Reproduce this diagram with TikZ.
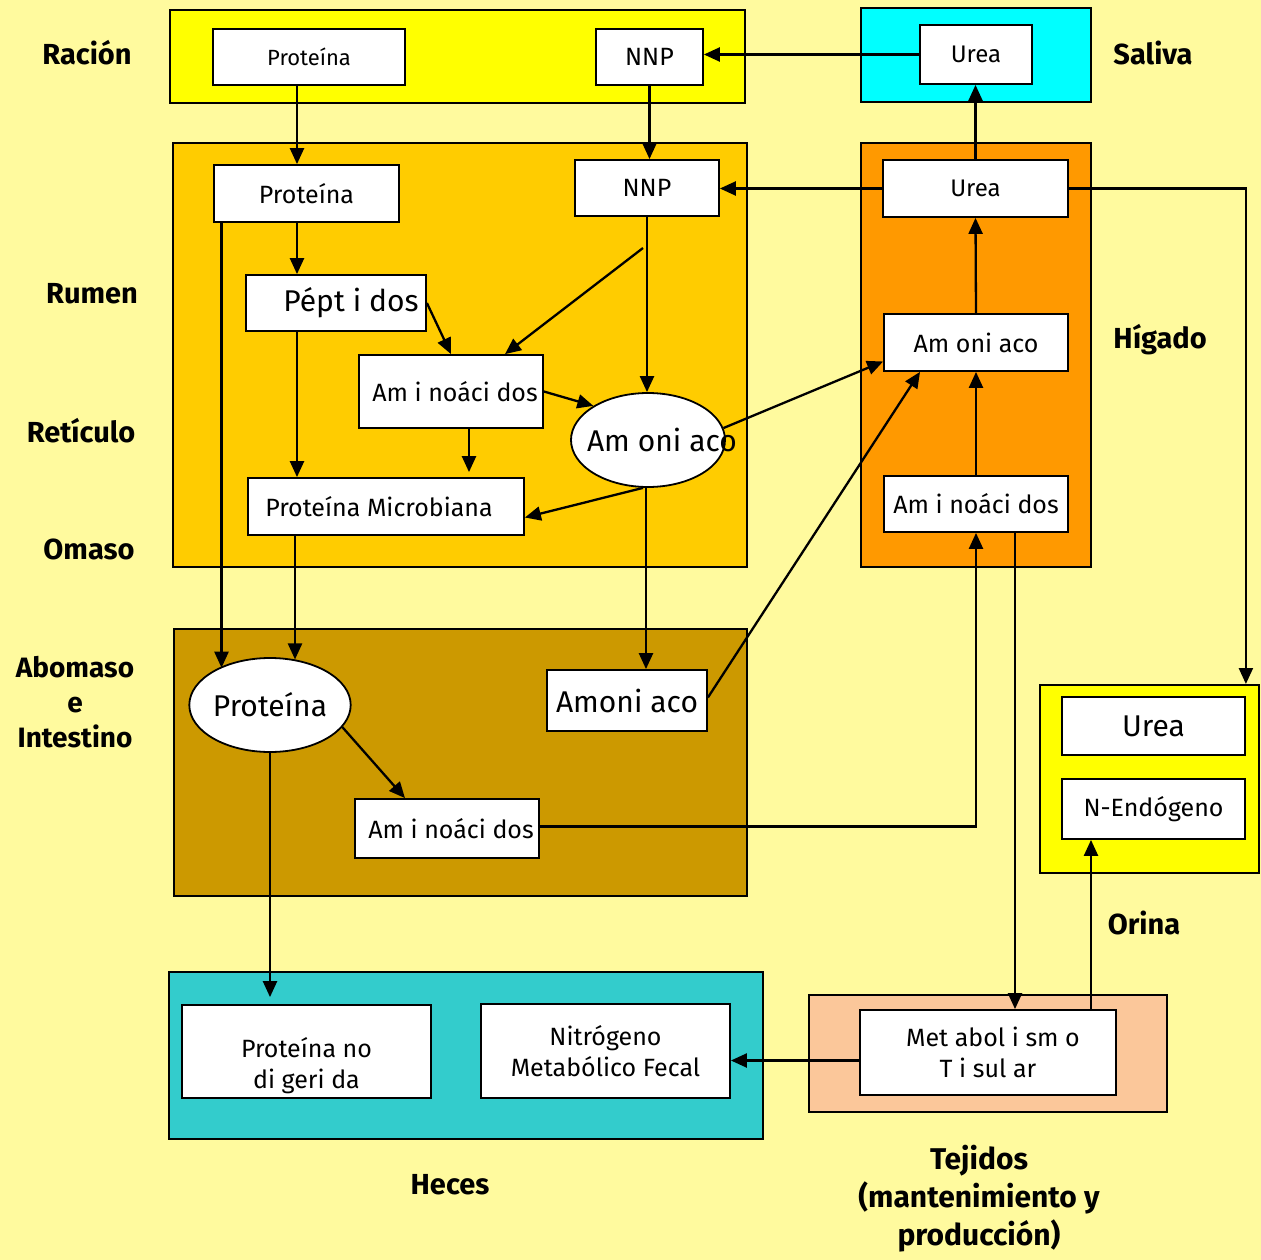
\documentclass[tikz,border=0pt]{standalone}
\usepackage{fontspec}
\setmainfont{Fira Sans}
\usetikzlibrary{arrows.meta,shapes.geometric}
\definecolor{bg}{HTML}{FFFA9E}
\definecolor{cRacion}{HTML}{FFFF00}
\definecolor{cSaliva}{HTML}{00FFFF}
\definecolor{cRumen}{HTML}{FFCC00}
\definecolor{cHigado}{HTML}{FF9900}
\definecolor{cAbomaso}{HTML}{CC9900}
\definecolor{cOrina}{HTML}{FFFF00}
\definecolor{cHeces}{HTML}{33CCCC}
\definecolor{cTejidos}{HTML}{FBC79A}
\begin{document}
\begin{tikzpicture}[x=1pt,y=-1pt,
  region/.style={draw=black,line width=2pt,rectangle,inner sep=0pt},
  box/.style={draw=black,fill=white,line width=1.8pt,rectangle,inner sep=0pt,align=center},
  oval/.style={draw=black,fill=white,line width=1.8pt,ellipse,inner sep=0pt},
  arr/.style={line width=2.3pt,-{Triangle[length=16pt,width=14pt]}},
  lab/.style={font=\bfseries\fontsize{29}{35}\selectfont,align=center},
  fA/.style={font=\fontsize{22}{28}\selectfont},
  fB/.style={font=\fontsize{24}{30}\selectfont},
  fC/.style={font=\fontsize{25}{31}\selectfont},
  fD/.style={font=\fontsize{30}{36}\selectfont}]
\useasboundingbox (0,0) rectangle (1261,1260);
\fill[bg] (0,0) rectangle (1261,1260);

% regions
\node[region,fill=cRacion,minimum width=575,minimum height=93] (RR) at (457.5,56.5) {};
\node[region,fill=cSaliva,minimum width=230,minimum height=94] (RS) at (976,55) {};
\node[region,fill=cRumen,minimum width=574,minimum height=424] (RU) at (460,355) {};
\node[region,fill=cHigado,minimum width=230,minimum height=424] (RH) at (976,355) {};
\node[region,fill=cAbomaso,minimum width=573,minimum height=267] (RA) at (460.5,762.5) {};
\node[region,fill=cOrina,minimum width=219,minimum height=188] (RO) at (1149.5,779) {};
\node[region,fill=cHeces,minimum width=594,minimum height=167] (RHe) at (466,1055.5) {};
\node[region,fill=cTejidos,minimum width=358,minimum height=117] (RT) at (988,1053.5) {};

% labels
\node[lab] (lRacion) at (87,53) {Ración};
\node[lab] (lSaliva) at (1153,53) {Saliva};
\node[lab] (lRumen) at (92,294) {Rumen};
\node[lab] (lReticulo) at (81,431) {Retículo};
\node[lab] (lOmaso) at (89,549) {Omaso};
\node[lab,font=\bfseries\fontsize{28}{35}\selectfont] (lAbomaso) at (75,702) {Abomaso\\e\\Intestino};
\node[lab] (lHigado) at (1160,340) {Hígado};
\node[lab] (lOrina) at (1144,923) {Orina};
\node[lab] (lHeces) at (450,1185) {Heces};
\node[lab,font=\bfseries\fontsize{30}{38}\selectfont] (lTejidos) at (979,1199) {Tejidos\\(mantenimiento y\\producción)};

% boxes
\node[box,fA,minimum width=192,minimum height=56] (rp) at (309,57) {Proteína};
\node[box,fC,minimum width=107,minimum height=56] (rn) at (649.5,57) {NNP};
\node[box,fB,minimum width=112,minimum height=59] (su) at (976,54.5) {Urea};
\node[box,fC,minimum width=185,minimum height=57] (mp) at (306.5,193.5) {Proteína};
\node[box,fC,minimum width=144,minimum height=56] (mn) at (647,188) {NNP};
\node[box,fD,minimum width=180,minimum height=56] (pep) at (336,303) {\hspace*{30pt}Pépt i dos};
\node[box,fC,minimum width=184,minimum height=73] (maa) at (451,391.5) {\hspace*{8pt}Am i noáci dos};
\node[oval,minimum width=154,minimum height=94,label={[fD,xshift=14pt]center:Am oni aco}] (mam) at (648,440) {};
\node[box,fC,minimum width=276,minimum height=57] (pm) at (386,506.5) {Proteína Microbiana\hspace*{14pt}};
\node[box,fB,minimum width=185,minimum height=57] (hu) at (975.5,188.5) {Urea};
\node[box,fC,minimum width=184,minimum height=57] (ham) at (976,342.5) {Am oni aco};
\node[box,fC,minimum width=184,minimum height=56] (haa) at (976,504) {Am i noáci dos};
\node[oval,fD,minimum width=154,minimum height=94] (ap) at (270,705) {Proteína};
\node[box,fD,minimum width=160,minimum height=61] (aam) at (627,700.5) {Amoni aco};
\node[box,fC,minimum width=184,minimum height=59] (aaa) at (447,828.5) {\hspace*{8pt}Am i noáci dos};
\node[box,fD,minimum width=183,minimum height=58] (ou) at (1153.5,726) {Urea};
\node[box,fC,minimum width=183,minimum height=60] (on) at (1153.5,809) {N-Endógeno};
\node[box,minimum width=249,minimum height=93,label={[fC,align=center,yshift=-14pt]center:Proteína no\\ di geri da}] (hp) at (306.5,1051.5) {};
\node[box,fC,minimum width=249,minimum height=94] (hn) at (605.5,1051) {Nitrógeno\\Metabólico Fecal};
\node[box,fC,minimum width=256,minimum height=85] (mt) at (988,1052.5) {\hspace*{10pt}Met abol i sm o\\T i sul ar};

\coordinate (nnpbr) at (643,248);

% connectors
\draw[arr] ([xshift=-12pt]rp.south) -- ([xshift=-9.5pt]mp.north);
\draw[arr] (rn.south) -- (rn.south |- mn.north);
\draw[arr] (su.west) -- (su.west -| rn.east);
\draw[arr] (hu.north) -- (hu.north |- su.south);
\draw[arr] (hu.west) -- (hu.west -| mn.east);
\draw[arr] (hu.east) -| (ou.east |- RO.north);
\draw[arr] ([xshift=-9.5pt]mp.south) -- ([xshift=-9.5pt]mp.south |- pep.north);
\draw[arr] ([xshift=-85pt]mp.south) -- ([xshift=-85pt]mp.south |- ap.144);
\draw[arr] ([xshift=-39pt]pep.south) -- ([xshift=-39pt]pep.south |- pm.north);
\draw[arr] (pep.east) -- (maa.north);
\draw[arr] (nnpbr) -- ([xshift=54pt]maa.north);
\draw[arr] (mn.south) -- (mn.south |- mam.north);
\draw[arr] (maa.east) -- (mam.148);
\draw[arr,shorten >=5pt] ([xshift=18pt]maa.south) -- ([xshift=18pt]maa.south |- pm.north);
\draw[arr] ([xshift=-5pt]mam.south) -- ([yshift=-11pt]pm.east);
\draw[arr] ([xshift=-2pt]mam.south) -- ([xshift=-2pt]mam.south |- aam.north);
\draw[arr] (mam.9) -- ([yshift=-19pt]ham.west);
\draw[arr] ([xshift=-91pt]pm.south) -- ([xshift=-91pt]pm.south |- ap.61);
\draw[arr] ([yshift=3pt]aam.east) -- ([xshift=-56pt]ham.south);
\draw[arr] (ap.-17) -- ([xshift=-42pt]aaa.north);
\draw[arr,shorten >=7pt] (ap.south) -- (ap.south |- hp.north);
\draw[arr] ([yshift=2pt]aaa.east) -| (haa.south);
\draw[arr] ([xshift=39pt]haa.south) -- ([xshift=39pt]haa.south |- mt.north);
\draw[arr] (haa.north) -- (ham.south);
\draw[arr] (ham.north) -- (hu.south);
\draw[arr] ([xshift=103pt]mt.north) -- ([xshift=103pt]mt.north |- on.south);
\draw[arr] ([yshift=-8pt]mt.west) -- ([yshift=-8pt]mt.west -| hn.east);
\end{tikzpicture}
\end{document}
